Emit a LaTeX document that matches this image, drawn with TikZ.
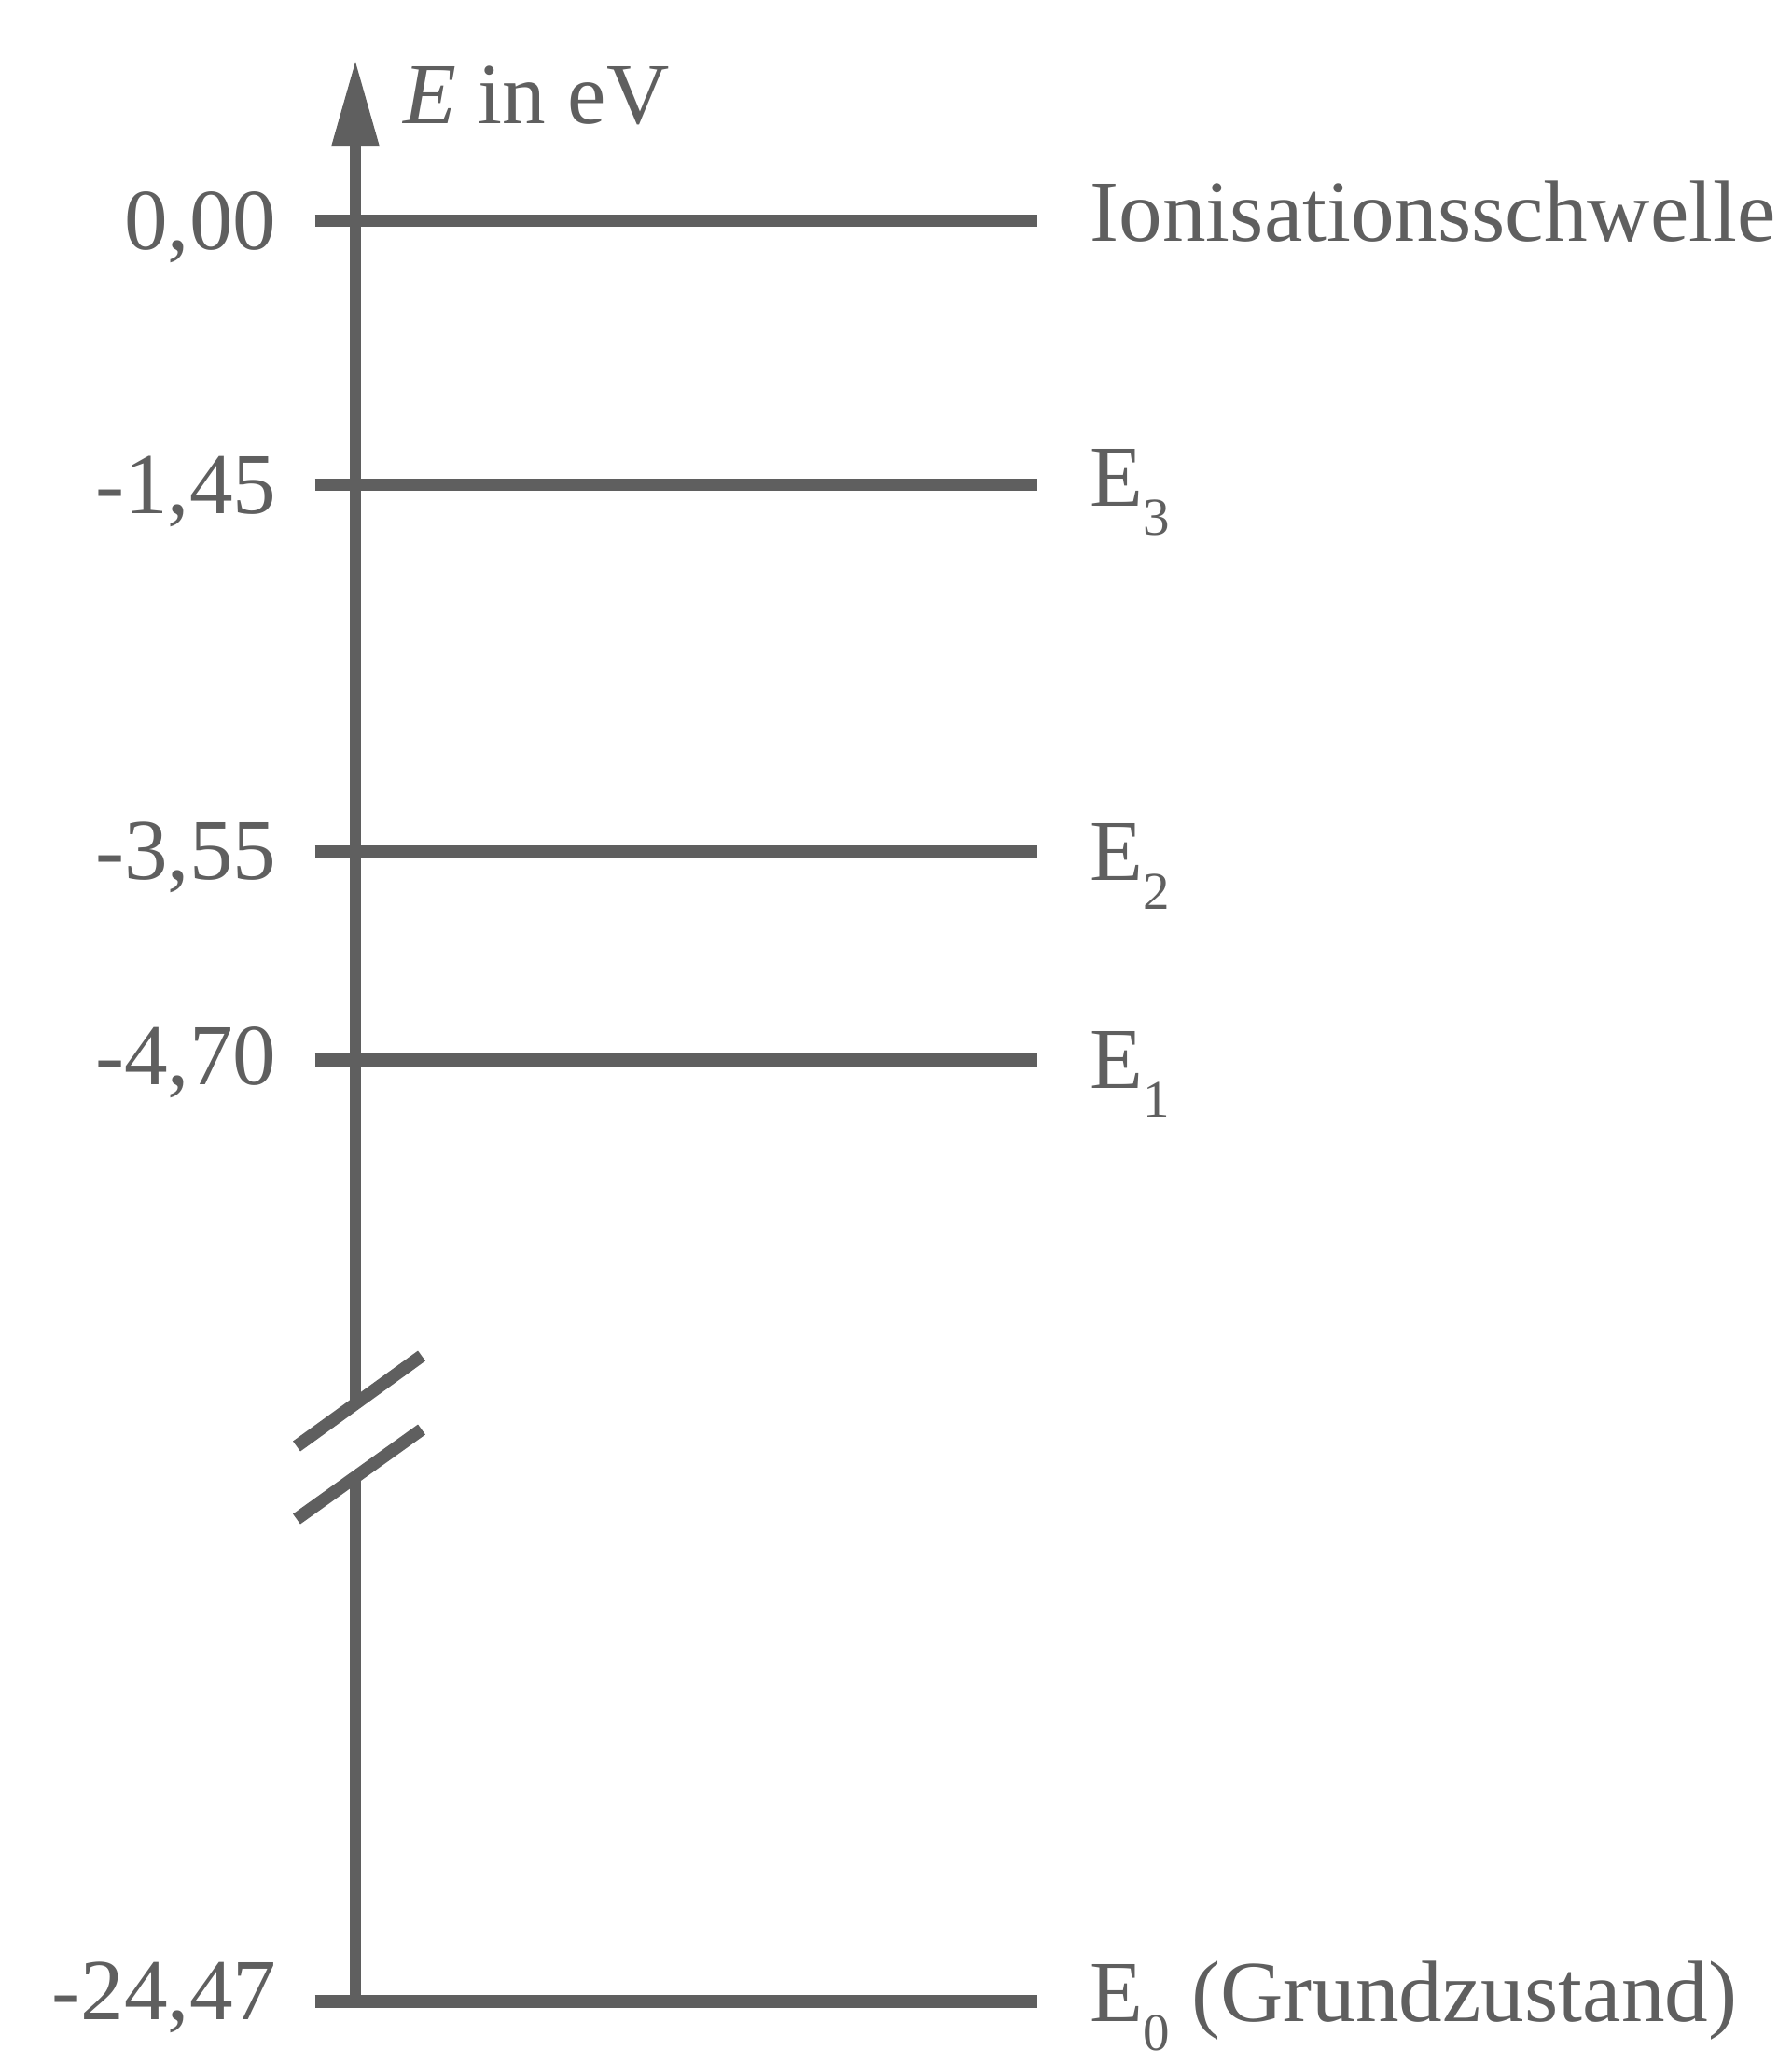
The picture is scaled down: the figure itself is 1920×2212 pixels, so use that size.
\documentclass[tikz,border=0pt]{standalone}
\usepackage{fontspec}
\setmainfont{Liberation Serif}
\usetikzlibrary{arrows.meta}
\definecolor{Grau}{HTML}{5F5F5F}
\newcommand{\Index}[1]{\raisebox{-0.31cm}{\fontsize{16.2}{18}\selectfont #1}}

\begin{document}
\begin{tikzpicture}[x=0.01cm,y=-0.01cm]
    \tikzset{NiveauStyle/.style = {line width=0.135cm,color=Grau}}
    \tikzset{AchsenStyle/.style = {line width=0.125cm,color=Grau}}
    \tikzset{WertStyle/.style = {anchor=base east,inner sep=0pt,text=Grau,font=\fontsize{26.5}{30}\selectfont}}
    \tikzset{NameStyle/.style = {anchor=base west,inner sep=0pt,text=Grau,font=\fontsize{26.5}{30}\selectfont}}

    \useasboundingbox (0,0) rectangle (1920,2212);

    % Energieniveaus: y / Wert / Abstand Wert / Name / Abstand Name / Kurzname
    \foreach \y/\wert/\dw/\name/\dn/\n in {%
        236.7/0{,}00/30.6/Ionisationsschwelle/21.6/i,
        519.7/-1{,}45/31/E\Index{3}/23/c,
        913/-3{,}55/29/E\Index{2}/30/b,
        1136/-4{,}70/26.5/E\Index{1}/30.7/a,
        2145/-24{,}47/19/E\Index{0} (Grundzustand)/21/g} {
        \coordinate (L\n) at (337.7,\y);
        \coordinate (R\n) at (1111.7,\y);
        \draw[NiveauStyle] (L\n) -- (R\n);
        \node[WertStyle] (W\n) at (297,\y+\dw) {\wert};
        \node[NameStyle] (N\n) at (1168,\y+\dn) {\name};
    }

    % Achse mit Bruch
    \coordinate (Spitze) at (381,64);
    \coordinate (BruchOben) at (381,1504.4);
    \coordinate (BruchUnten) at (381,1582.4);
    \coordinate (Fuss) at (381,2145);
    \draw[AchsenStyle,-{Triangle[length=0.93cm,width=0.48cm]}] (BruchOben) -- (Spitze);
    \draw[AchsenStyle] (BruchUnten) -- (Fuss);

    \coordinate (S1a) at (318,1550); \coordinate (S1b) at (452,1453);
    \coordinate (S2a) at (318,1628); \coordinate (S2b) at (452,1532);
    \draw[NiveauStyle] (S1a) -- (S1b);
    \draw[NiveauStyle] (S2a) -- (S2b);

    \node[NameStyle] (Einheit) at (432,132.7) {\textit{E} in eV};
\end{tikzpicture}
\end{document}
